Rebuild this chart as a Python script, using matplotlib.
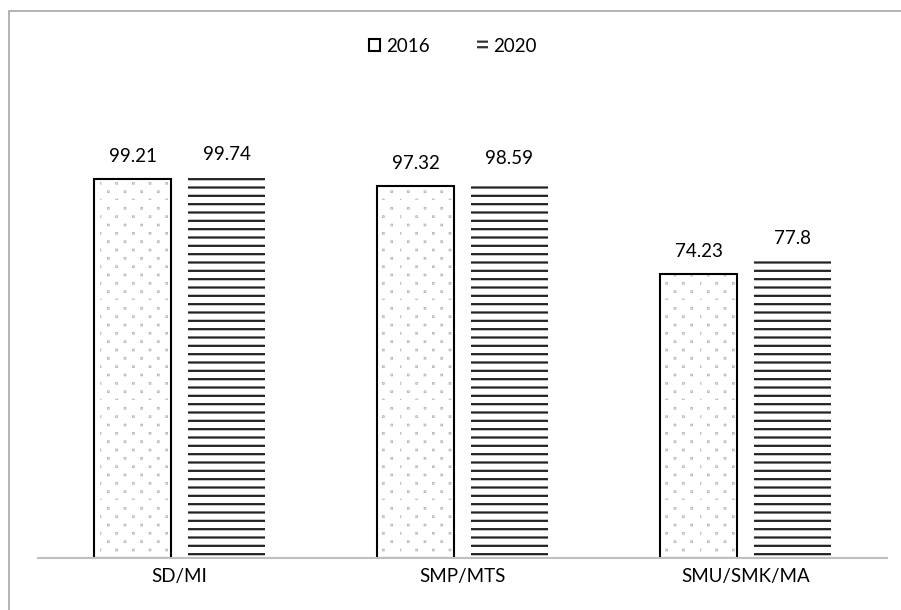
import numpy as np
import matplotlib
matplotlib.use("Agg")
import matplotlib.pyplot as plt
import matplotlib.hatch as mhatch
from matplotlib.path import Path
from matplotlib.patches import Rectangle

plt.rcParams['font.family'] = ['Lato', 'DejaVu Sans']
plt.rcParams['hatch.linewidth'] = 1.6

categories = ['SD/MI', 'SMP/MTS', 'SMU/SMK/MA']
series_names = ['2016', '2020']
values_2016 = [99.21, 97.32, 74.23]
values_2020 = [99.74, 98.59, 77.8]


# sparse staggered speckle texture like the office "5%" pattern
class SparseDots(mhatch.HatchPatternBase):
    def __init__(self, hatch, density):
        self.rows = hatch.count('.') * density * 2
        self.cols = hatch.count('.') * density
        self.num_shapes = self.rows * self.cols
        self.num_vertices = self.num_shapes * 5

    def set_vertices_and_codes(self, vertices, codes):
        s = 0.002
        sq = np.array([[-s, -s], [s, -s], [s, s], [-s, s], [-s, -s]])
        k = 0
        for r in range(self.rows):
            for c in range(self.cols):
                cx = (c + 0.5 * (r % 2)) / self.cols
                cy = r / self.rows
                vertices[k:k + 5] = sq + [cx, cy]
                codes[k:k + 5] = [Path.MOVETO, Path.LINETO, Path.LINETO,
                                  Path.LINETO, Path.CLOSEPOLY]
                k += 5


mhatch._hatch_types = [t for t in mhatch._hatch_types
                       if t is not mhatch.SmallFilledCircles] + [SparseDots]

fig = plt.figure(figsize=(9.01, 6.10), dpi=100)
ax = fig.add_axes([38 / 901, 1 - 558 / 610, 849 / 901, 459 / 610])

x = np.arange(len(categories))
w = 0.272
off = 0.166

# 2016: gray speckles inside, black outline on top
ax.bar(x - off, values_2016, w, color='white', edgecolor='#b4b4b4', hatch='.', linewidth=0)
ax.bar(x - off, values_2016, w, fill=False, edgecolor='black', linewidth=1.5)
# 2020: dense horizontal lines, no outline
ax.bar(x + off, values_2020, w, color='white', edgecolor='#222222', hatch='--', linewidth=0)

for xi, v in zip(x - off, values_2016):
    ax.annotate(f'{v:g}', (xi, v), xytext=(0, 12), textcoords='offset points',
                ha='center', va='baseline', fontsize=13.5)
for xi, v in zip(x + off, values_2020):
    ax.annotate(f'{v:g}', (xi, v), xytext=(0, 12), textcoords='offset points',
                ha='center', va='baseline', fontsize=13.5)

ax.set_xlim(-0.5, 2.5)
ax.set_ylim(0, 120)
ax.set_xticks(x)
ax.set_xticklabels(categories, fontsize=13.5)
ax.tick_params(axis='x', length=0, pad=7)
ax.set_yticks([])
for s in ['top', 'right', 'left']:
    ax.spines[s].set_visible(False)
ax.spines['bottom'].set_color('#bfbfbf')
ax.spines['bottom'].set_linewidth(1.5)

# legend
h1 = Rectangle((0, 0), 1, 1, facecolor='white', edgecolor='black', linewidth=1.5)
h2 = Rectangle((0, 0), 1, 1, facecolor='white', edgecolor='#333333', hatch='---', linewidth=0)
fig.legend([h1, h2], series_names, loc='center', ncol=2, frameon=False,
           bbox_to_anchor=(453 / 901, 1 - 46 / 610), fontsize=13.5,
           handlelength=0.6, handleheight=0.6, handletextpad=0.3, columnspacing=2.5)

# outer chart border (only top and left visible)
fig.add_artist(Rectangle((8.5 / 901, -0.1), 1.2, 1.1 - 11.5 / 610, transform=fig.transFigure,
                         fill=False, edgecolor='#a6a6a6', linewidth=1.2))

fig.savefig('out.png', dpi=100)
